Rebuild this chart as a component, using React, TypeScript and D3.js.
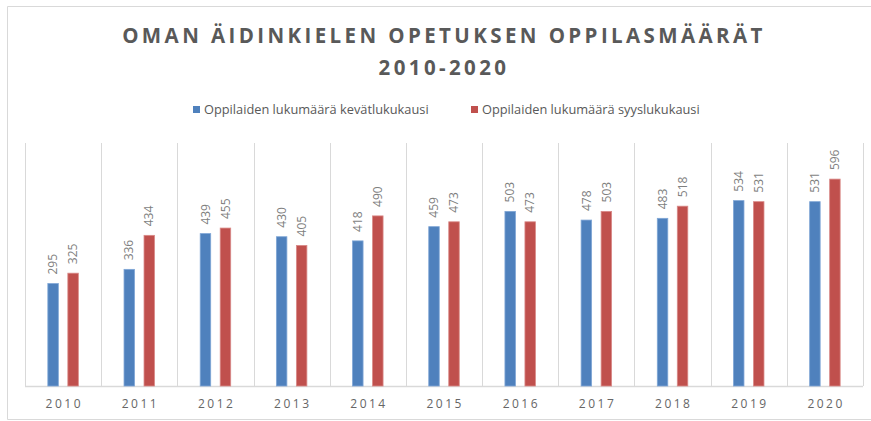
import React, { useEffect, useRef } from "react";
import * as d3 from "d3";

const years = ["2010", "2011", "2012", "2013", "2014", "2015", "2016", "2017", "2018", "2019", "2020"];
const spring = [295, 336, 439, 430, 418, 459, 503, 478, 483, 534, 531];
const autumn = [325, 434, 455, 405, 490, 473, 473, 503, 518, 531, 596];
const seriesNames = ["Oppilaiden lukumäärä kevätlukukausi", "Oppilaiden lukumäärä syyslukukausi"];
const seriesColors = ["#4F81BD", "#C0504D"];
const seriesStroke = ["#7FA6D6", "#D98A88"];

const App = () => {
  const ref = useRef<SVGSVGElement>(null);

  useEffect(() => {
    const width = 871;
    const height = 421;
    const font = "'Open Sans', sans-serif";
    const svg = d3.select(ref.current);
    svg.selectAll("*").remove();

    svg.append("rect").attr("width", width).attr("height", height).attr("fill", "#fff");

    // outer frame (top, left and bottom edges only, right side is cut off)
    svg
      .append("path")
      .attr("d", "M871,6.5 H7.5 V419.5 H871")
      .attr("fill", "none")
      .attr("stroke", "#d9d9d9");

    // title
    const title = svg
      .append("text")
      .attr("text-anchor", "middle")
      .attr("fill", "#595959")
      .style("font-family", font)
      .style("font-weight", "bold")
      .style("font-size", "20.5px")
      .style("letter-spacing", "3.4px");
    title.append("tspan").attr("x", 444).attr("y", 43).text("OMAN ÄIDINKIELEN OPETUKSEN OPPILASMÄÄRÄT");
    title.append("tspan").attr("x", 444).attr("y", 75).text("2010-2020");

    const margin = { left: 25, right: 8, top: 143, bottom: 35 };
    const x = d3
      .scaleBand()
      .domain(years)
      .range([margin.left, width - margin.right]);
    const inner = d3.scaleBand<number>().domain([0, 1]).range([0, 30.5]).paddingInner(0.475);
    const y = d3
      .scaleLinear()
      .domain([0, 700])
      .range([height - margin.bottom, margin.top]);

    // legend
    const legendX = [193, 471];
    seriesNames.forEach((name, i) => {
      const g = svg.append("g").attr("transform", `translate(${legendX[i]},110)`);
      g.append("rect").attr("x", 0).attr("y", -4).attr("width", 7).attr("height", 7).attr("fill", seriesColors[i]);
      g.append("text")
        .attr("x", 11)
        .attr("y", 0)
        .attr("dy", "0.35em")
        .attr("fill", "#595959")
        .style("font-family", font)
        .style("font-size", "12.8px")
        .text(name);
    });

    // vertical gridlines
    const bounds = [...years.map((d) => x(d) as number), width - margin.right];
    svg
      .append("g")
      .selectAll("line")
      .data(bounds)
      .enter()
      .append("line")
      .attr("x1", (d) => Math.round(d) + 0.5)
      .attr("x2", (d) => Math.round(d) + 0.5)
      .attr("y1", margin.top)
      .attr("y2", y(0))
      .attr("stroke", "#d9d9d9");

    // baseline
    svg
      .append("line")
      .attr("x1", margin.left)
      .attr("x2", width - margin.right)
      .attr("y1", y(0) + 0.5)
      .attr("y2", y(0) + 0.5)
      .attr("stroke", "#d9d9d9")
      .attr("stroke-width", 1.5);

    const data = years.map((yr, i) => ({ year: yr, values: [spring[i], autumn[i]] }));

    const groups = svg
      .append("g")
      .selectAll("g")
      .data(data)
      .enter()
      .append("g")
      .attr("transform", (d) => `translate(${(x(d.year) as number) + x.bandwidth() / 2 - 15.25},0)`);

    groups
      .selectAll("rect")
      .data((d) => d.values)
      .enter()
      .append("rect")
      .attr("x", (_, i) => inner(i) as number)
      .attr("y", (v) => y(v))
      .attr("width", inner.bandwidth())
      .attr("height", (v) => y(0) - y(v))
      .attr("fill", (_, i) => seriesColors[i])
      .attr("stroke", (_, i) => seriesStroke[i])
      .attr("stroke-width", 0.8);

    groups
      .selectAll("text")
      .data((d) => d.values)
      .enter()
      .append("text")
      .attr(
        "transform",
        (v, i) => `translate(${(inner(i) as number) + inner.bandwidth() / 2},${y(v) - 9}) rotate(-90)`
      )
      .attr("dy", "0.35em")
      .attr("fill", "#7f7f7f")
      .style("font-family", font)
      .style("font-size", "12px")
      .text((v) => v);

    // category labels
    svg
      .append("g")
      .selectAll("text")
      .data(years)
      .enter()
      .append("text")
      .attr("x", (d) => (x(d) as number) + x.bandwidth() / 2 + 1.2)
      .attr("y", 408)
      .attr("text-anchor", "middle")
      .attr("fill", "#666")
      .style("font-family", font)
      .style("font-size", "12px")
      .style("letter-spacing", "2.5px")
      .text((d) => d);
  }, []);

  return (
    <svg
      ref={ref}
      width={871}
      height={421}
      style={{ position: "absolute", left: 0, top: 0 }}
    />
  );
};

export default App;
